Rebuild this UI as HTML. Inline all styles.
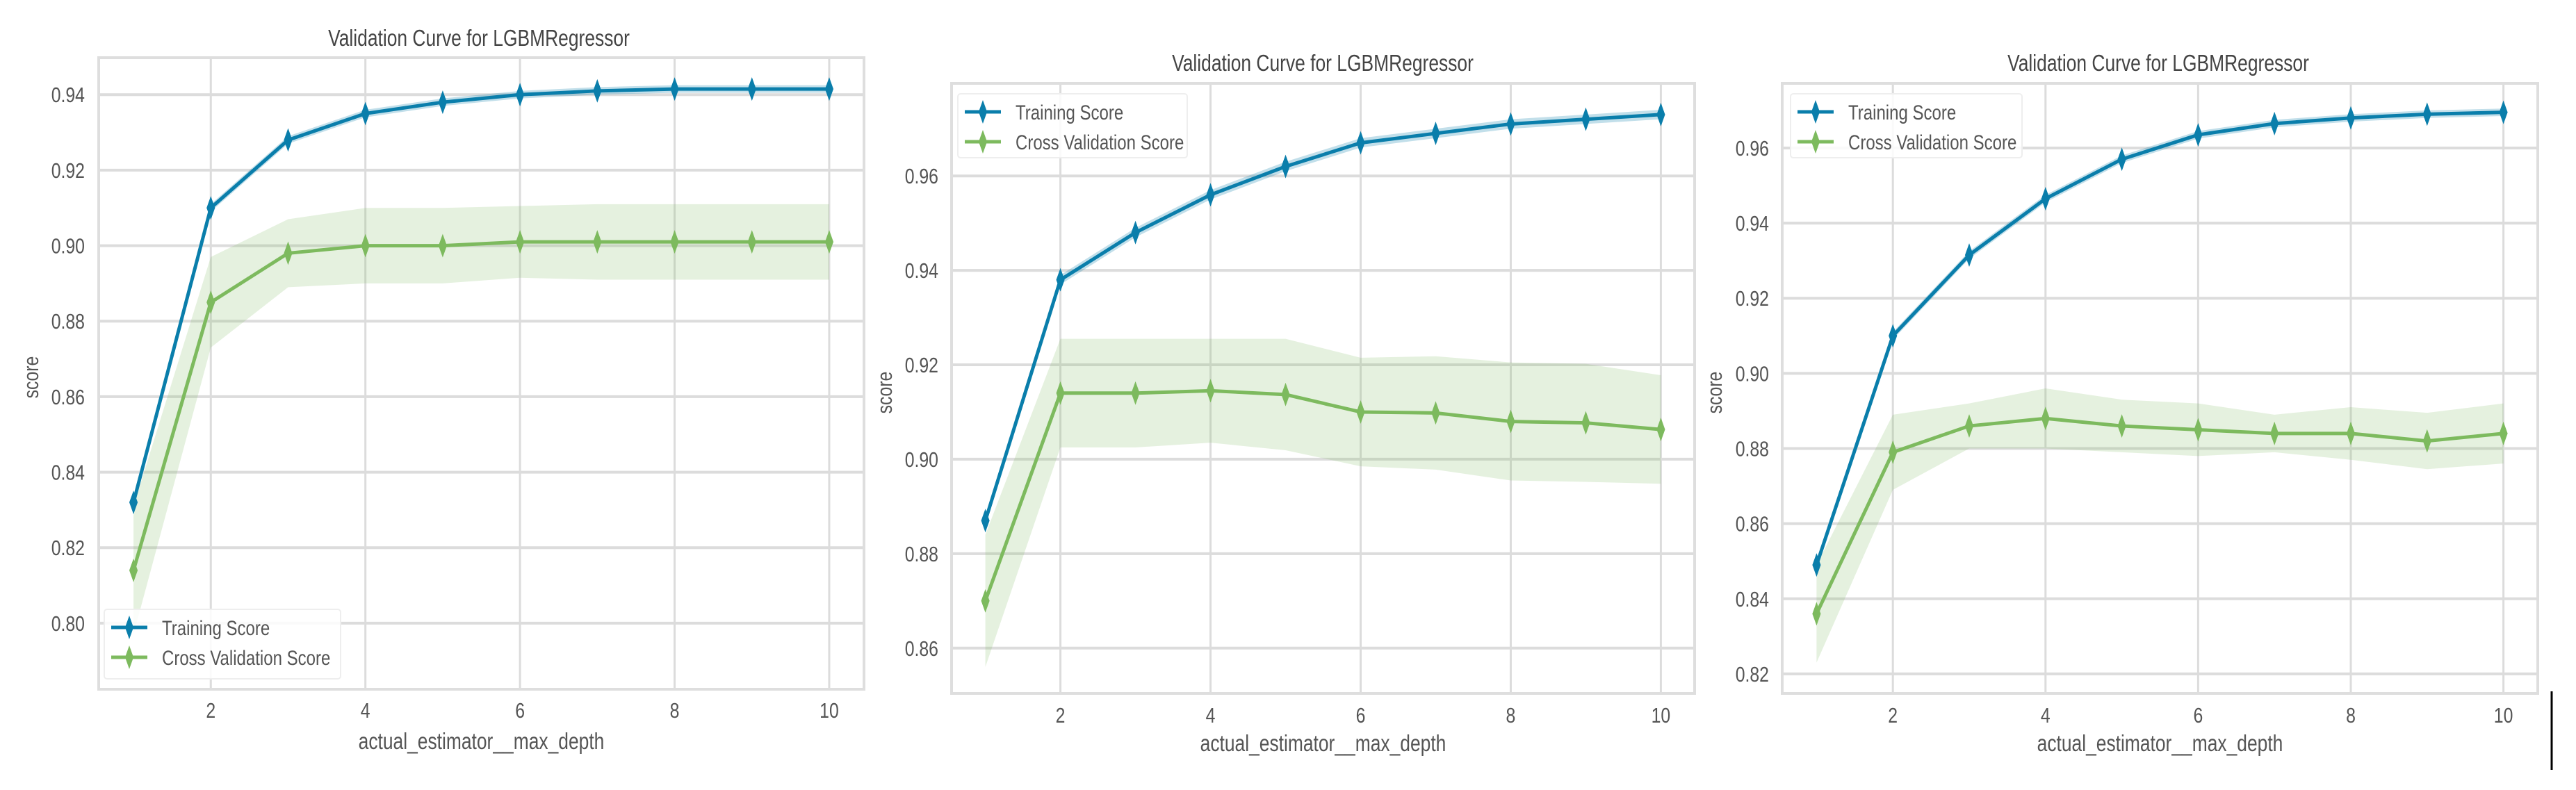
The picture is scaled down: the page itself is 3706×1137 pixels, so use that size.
<!DOCTYPE html>
<html><head><meta charset="utf-8"><style>
html,body{margin:0;padding:0;background:#fff;}
svg{display:block;font-family:"Liberation Sans",sans-serif;}
</style></head><body>
<svg id="fig" width="3706" height="1137" viewBox="0 0 3706 1137" xmlns="http://www.w3.org/2000/svg">
<line x1="3671" y1="995" x2="3671" y2="1108" stroke="#000" stroke-width="3"/>
</svg>
<script>
const xValues = [1,2,3,4,5,6,7,8,9,10];
const xTicks = [2,4,6,8,10];
const train1 = [0.832,0.910,0.928,0.935,0.938,0.940,0.941,0.9415,0.9415,0.9415];
const cv1 = [0.814,0.885,0.898,0.900,0.900,0.901,0.901,0.901,0.901,0.901];
const cvStd1 = [0.017,0.012,0.009,0.010,0.010,0.0095,0.010,0.010,0.010,0.010];
const trainStd1 = [0.001,0.001,0.001,0.001,0.001,0.001,0.001,0.001,0.001,0.001];
const yTicks1 = [0.80,0.82,0.84,0.86,0.88,0.90,0.92,0.94];
const train2 = [0.887,0.938,0.948,0.956,0.962,0.967,0.969,0.971,0.972,0.973];
const cv2 = [0.870,0.914,0.914,0.9145,0.9137,0.910,0.9098,0.908,0.9077,0.9063];
const cvStd2 = [0.014,0.0115,0.0115,0.011,0.0118,0.0115,0.012,0.0125,0.0125,0.0115];
const trainStd2 = [0.001,0.001,0.001,0.001,0.001,0.001,0.001,0.001,0.001,0.001];
const yTicks2 = [0.86,0.88,0.90,0.92,0.94,0.96];
const train3 = [0.849,0.910,0.9315,0.9465,0.957,0.9635,0.9665,0.968,0.969,0.9695];
const cv3 = [0.836,0.879,0.886,0.888,0.886,0.885,0.884,0.884,0.882,0.884];
const cvStd3 = [0.013,0.010,0.006,0.008,0.007,0.007,0.005,0.007,0.0075,0.008];
const trainStd3 = [0.001,0.001,0.001,0.001,0.001,0.001,0.001,0.001,0.001,0.001];
const yTicks3 = [0.82,0.84,0.86,0.88,0.90,0.92,0.94,0.96];

const NS="http://www.w3.org/2000/svg";
const svg=document.getElementById('fig');
function mk(tag,attrs,parent){const e=document.createElementNS(NS,tag);for(const k in attrs)e.setAttribute(k,attrs[k]);(parent||svg).appendChild(e);return e;}
function squeeze(t){const w=t.getComputedTextLength();if(w>0){t.setAttribute('textLength',(w*0.8).toFixed(1));t.setAttribute('lengthAdjust','spacingAndGlyphs');}}

const panels=[
 {id:1,L:142,R:1243,T:83,B:992,ymin:0.7825,ymax:0.9498,title:[689,66],tickX:122,ylab:[55,543],tickY:1033,xlab:1078,legend:{x:150,y:877,w:340,h:100},train:train1,cv:cv1,cvs:cvStd1,ts:trainStd1,yt:yTicks1},
 {id:2,L:1369,R:2438,T:120,B:998,ymin:0.8504,ymax:0.9796,title:[1903,102],tickX:1350,ylab:[1283,565],tickY:1040,xlab:1081,legend:{x:1378,y:135,w:330,h:92},train:train2,cv:cv2,cvs:cvStd2,ts:trainStd2,yt:yTicks2},
 {id:3,L:2564,R:3651,T:120,B:998,ymin:0.8148,ymax:0.9772,title:[3105,102],tickX:2545,ylab:[2477,565],tickY:1040,xlab:1081,legend:{x:2576,y:135,w:333,h:92},train:train3,cv:cv3,cvs:cvStd3,ts:trainStd3,yt:yTicks3}
];
const BLUE="#0a7eab", GREEN="#7dba5e";

function diamond(g,x,y,color){
  const p=mk('polygon',{points:`${x},${y-14} ${x+5},${y} ${x},${y+14} ${x-5},${y}`,fill:color,stroke:color,'stroke-width':2},g);
  
  
}

panels.forEach(p=>{
  const g=mk('g',{});
  
  
  const sx=v=>p.L+(v-0.55)/(10.45-0.55)*(p.R-p.L);
  const sy=v=>p.B-(v-p.ymin)/(p.ymax-p.ymin)*(p.B-p.T);
  p.yt.forEach(t=>{
    const l=mk('line',{x1:p.L,x2:p.R,y1:sy(t),y2:sy(t),stroke:'#dcdcdc','stroke-width':4},g);
    
    
    const tx=mk('text',{x:p.tickX,y:sy(t)+11,'text-anchor':'end','font-size':31,fill:'#555'},g);
    tx.textContent=t.toFixed(2);
    
    
    squeeze(tx);
  });
  xTicks.forEach(t=>{
    const l=mk('line',{x1:sx(t),x2:sx(t),y1:p.T,y2:p.B,stroke:'#dcdcdc','stroke-width':3},g);
    
    
    const tx=mk('text',{x:sx(t),y:p.tickY,'text-anchor':'middle','font-size':31,fill:'#555'},g);
    tx.textContent=t;
    
    
    squeeze(tx);
  });
  const fr=mk('rect',{x:p.L,y:p.T,width:p.R-p.L,height:p.B-p.T,fill:'none',stroke:'#dedede','stroke-width':4},g);
  
  
  function band(vals,std,color,op,name){
    let up=xValues.map((x,i)=>`${sx(x)},${sy(vals[i]+std[i])}`);
    let dn=xValues.map((x,i)=>`${sx(x)},${sy(vals[i]-std[i])}`).reverse();
    const b=mk('polygon',{points:up.concat(dn).join(' '),fill:color,'fill-opacity':op},g);
    
    
  }
  band(p.cv,p.cvs,GREEN,0.2,'cv-score-band');
  band(p.train,p.ts,BLUE,0.25,'training-score-band');
  function line(vals,color,name){
    const l=mk('polyline',{points:xValues.map((x,i)=>`${sx(x)},${sy(vals[i])}`).join(' '),fill:'none',stroke:color,'stroke-width':5,'stroke-linejoin':'round'},g);
    
    
    xValues.forEach((x,i)=>diamond(g,sx(x),sy(vals[i]),color));
  }
  line(p.cv,GREEN,'cv-score-line');
  line(p.train,BLUE,'training-score-line');
  const ti=mk('text',{x:p.title[0],y:p.title[1],'text-anchor':'middle','font-size':33,fill:'#444'},g);
  ti.textContent='Validation Curve for LGBMRegressor';
  
  
  squeeze(ti);
  const xl=mk('text',{x:(p.L+p.R)/2,y:p.xlab,'text-anchor':'middle','font-size':33,fill:'#555'},g);
  xl.textContent='actual_estimator__max_depth';
  
  
  squeeze(xl);
  const yl=mk('text',{x:p.ylab[0],y:p.ylab[1],'text-anchor':'middle','font-size':31,fill:'#555',transform:`rotate(-90 ${p.ylab[0]} ${p.ylab[1]})`},g);
  yl.textContent='score';
  
  
  squeeze(yl);
  const lg=mk('g',{},g);
  
  
  const L=p.legend;
  mk('rect',{x:L.x,y:L.y,width:L.w,height:L.h,fill:'#fff','fill-opacity':0.85,stroke:'#eee','stroke-width':2,rx:4},lg);
  [[BLUE,'Training Score'],[GREEN,'Cross Validation Score']].forEach((e,i)=>{
    const cy=L.y+26+i*43;
    const en=mk('g',{},lg);
    
    
    mk('line',{x1:L.x+10,x2:L.x+62,y1:cy,y2:cy,stroke:e[0],'stroke-width':5},en);
    diamond(en,L.x+36,cy,e[0]);
    const t=mk('text',{x:L.x+83,y:cy+11,'font-size':30,fill:'#555'},en);
    t.textContent=e[1];
    squeeze(t);
  });
});
</script>
</body></html>
